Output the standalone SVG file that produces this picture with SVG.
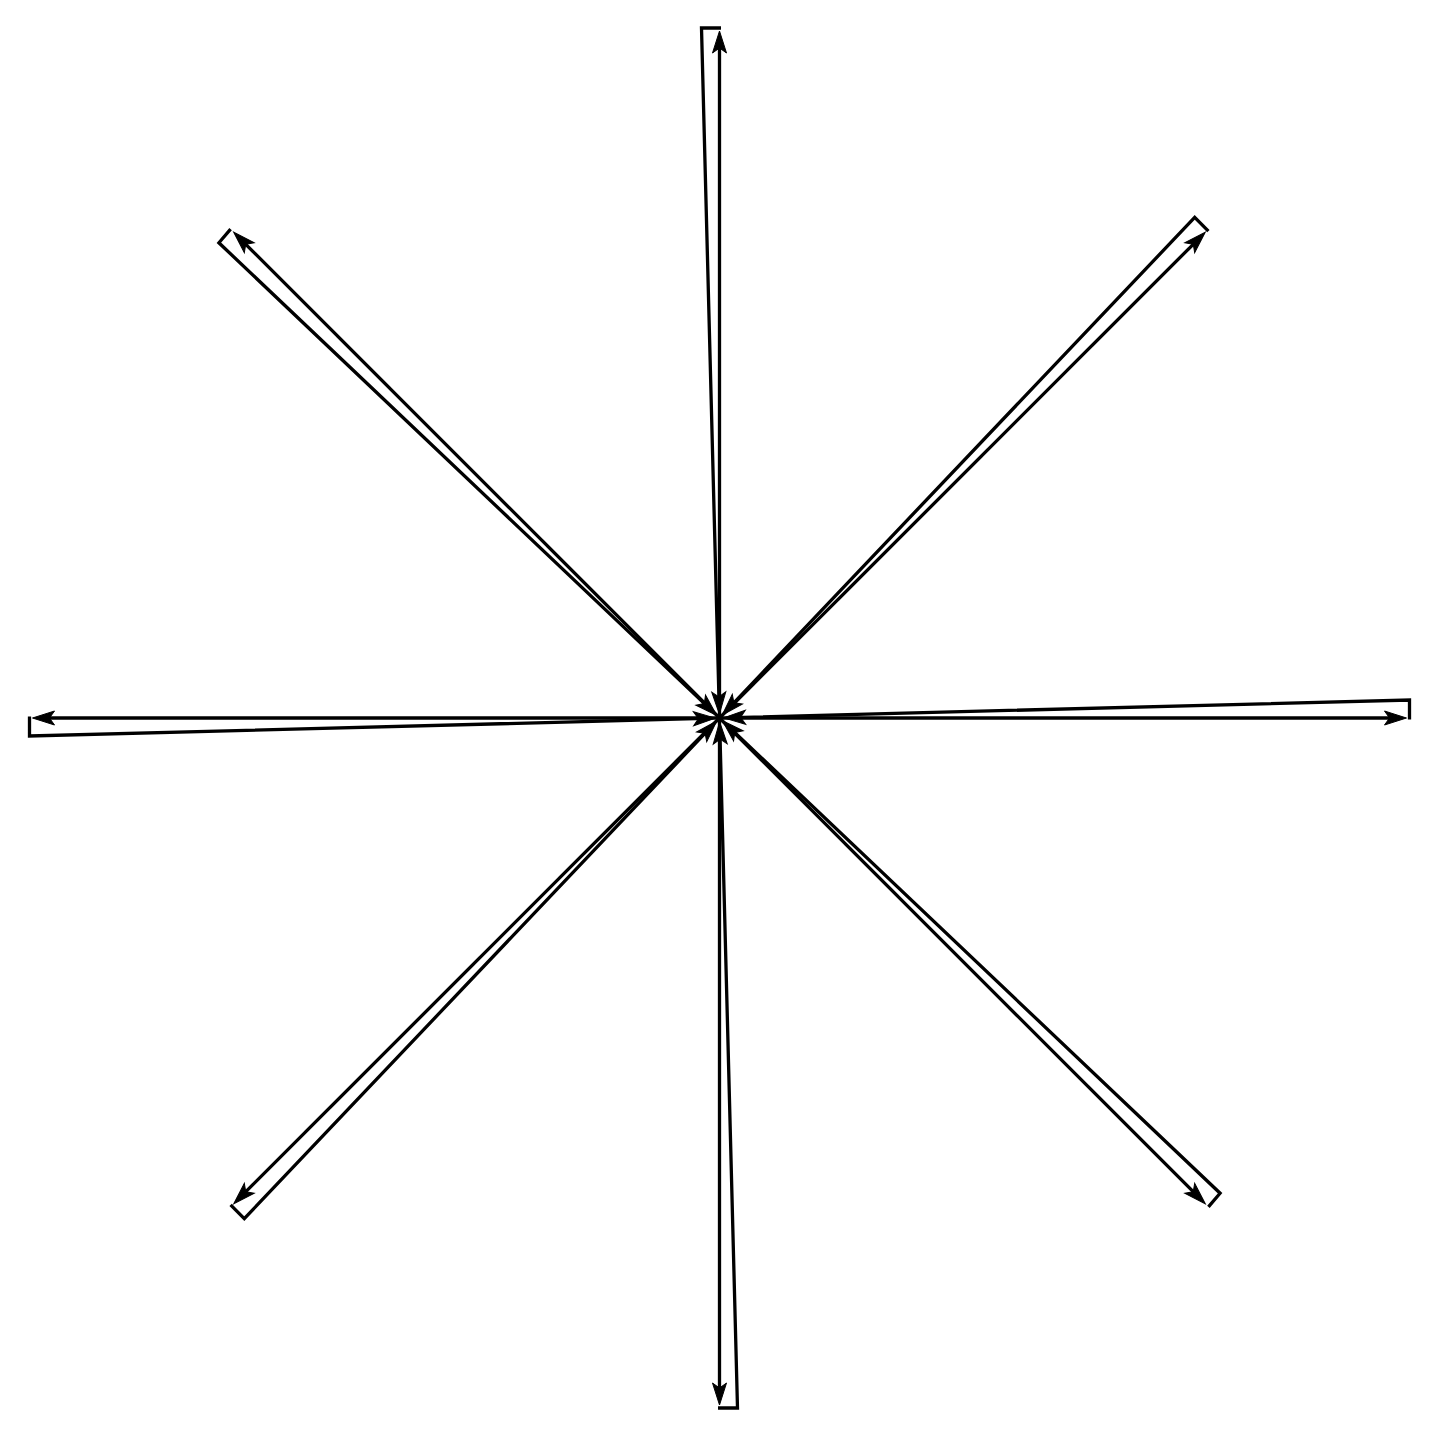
<svg xmlns="http://www.w3.org/2000/svg" width="1440" height="1438" viewBox="0 0 1440 1438">
<style>
.e{fill:none;stroke:#000;stroke-width:3.3;stroke-linejoin:miter;stroke-linecap:butt}
.o{marker-end:url(#ah)}
</style>
<defs>
<marker id="ah" markerUnits="userSpaceOnUse" markerWidth="40" markerHeight="40" refX="0" refY="0" orient="auto" overflow="visible">
<path d="M10 0 L-12 -7 L-7 0 L-12 7 Z" fill="#000" stroke="#000" stroke-width="1"/>
</marker>
</defs>
<rect width="1440" height="1438" fill="#fff"/>
<g id="connectors">
<g id="arm-top">
<line class="e o" x1="719.5" y1="718" x2="719.5" y2="41"/>
<polyline class="e o" points="721,28 701.5,28 719.1,704"/>
</g>
<g id="arm-right">
<line class="e o" x1="719.5" y1="718" x2="1396.5" y2="718"/>
<polyline class="e o" points="1409.5,719.5 1409.5,700 733.5,717.6"/>
</g>
<g id="arm-bottom">
<line class="e o" x1="719.5" y1="718" x2="719.5" y2="1395"/>
<polyline class="e o" points="718,1408 737.5,1408 719.9,732"/>
</g>
<g id="arm-left">
<line class="e o" x1="719.5" y1="718" x2="42.5" y2="718"/>
<polyline class="e o" points="29.5,716.5 29.5,736 705.5,718.4"/>
</g>
<g id="arm-top-right">
<line class="e o" x1="719.5" y1="718" x2="1198.2" y2="239.3"/>
<polyline class="e o" points="1208.4,231.1 1194.7,217.4 729.1,707.8"/>
</g>
<g id="arm-top-left">
<line class="e o" x1="719.5" y1="718" x2="240.8" y2="239.3"/>
<polyline class="e o" points="230.6,229.1 218.9,242.8 709.4,708.4"/>
</g>
<g id="arm-bottom-left">
<line class="e o" x1="719.5" y1="718" x2="240.8" y2="1196.7"/>
<polyline class="e o" points="230.6,1204.9 244.3,1218.6 709.9,728.2"/>
</g>
<g id="arm-bottom-right">
<line class="e o" x1="719.5" y1="718" x2="1198.2" y2="1196.7"/>
<polyline class="e o" points="1208.4,1206.9 1220.1,1193.2 729.7,727.6"/>
</g>
</g>
</svg>
